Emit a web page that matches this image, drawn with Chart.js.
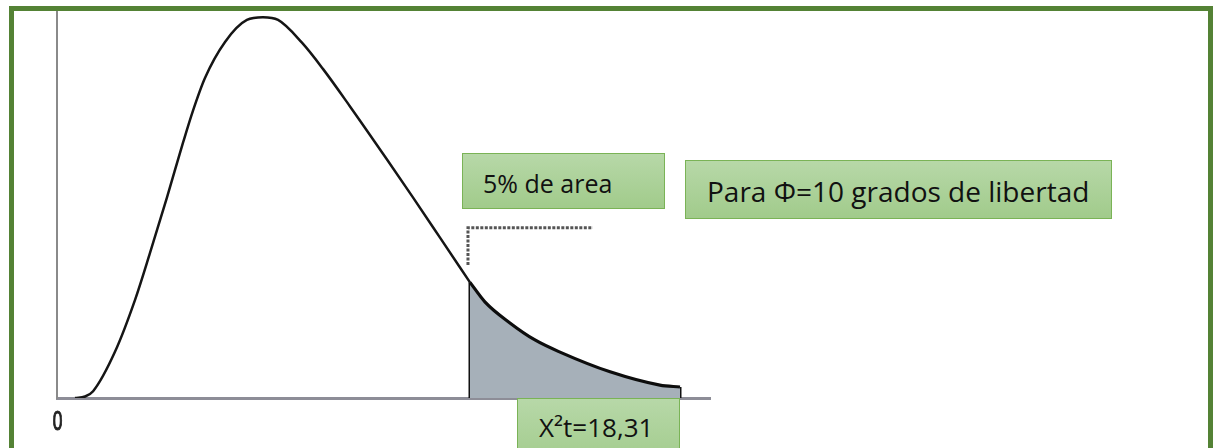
<!DOCTYPE html>
<html>
<head>
<meta charset="utf-8">
<script src="https://cdn.jsdelivr.net/npm/chart.js@4/dist/chart.umd.min.js"></script>
<style>
  html, body { margin: 0; padding: 0; background: #fff; overflow: hidden; }
  #wrap { position: relative; width: 1222px; height: 448px; }
  #chart { position: absolute; left: 0; top: 0; }
  .frame {
    position: absolute; left: 9px; top: 6px; width: 1194px; height: 520px;
    border: 5px solid #548235;
  }
  .box {
    position: absolute; box-sizing: border-box;
    background: linear-gradient(#b7d8a8, #a1cb8b);
    border: 1.5px solid #7ab356;
    font-family: 'Open Sans', 'Noto Sans', sans-serif;
    color: #111; line-height: 1; white-space: nowrap;
  }
</style>
</head>
<body>
<div id="wrap">
  <div class="frame"></div>
  <canvas id="chart" width="1222" height="448"></canvas>
  <div class="box" style="left:462px;top:153px;width:203px;height:56px;font-size:25px;padding:17px 0 0 20px;">5% de area</div>
  <div class="box" style="left:685px;top:160px;width:427px;height:59px;font-size:28px;padding:16px 0 0 21px;">Para Φ=10 grados de libertad</div>
  <div class="box" style="left:517px;top:398px;width:163px;height:70px;font-size:26px;padding:15px 0 0 21px;">X²t=18,31</div>
</div>
<script>
/* ── Data (x = chi-square value, y = density) ── */
const CRITICAL = 18.31;
const X_MAX = 28.95;
const Y_MAX = 0.1018;

// main curve up to the critical value
const curveX = [0.80, 1.24, 1.60, 2.57, 3.46, 4.12, 4.88, 5.59, 6.03, 6.56, 7.45, 8.42, 9.13,
  9.80, 10.86, 11.79, 12.99, 14.63, 15.78, 16.98, 18.31];
const curveY = [0, 0.0004, 0.0018, 0.0122, 0.0259, 0.0382, 0.0530, 0.0674, 0.0758, 0.0844, 0.0939, 0.0997, 0.1004,
  0.0997, 0.0937, 0.0868, 0.0769, 0.0629, 0.0529, 0.0423, 0.0305];

// shaded tail (5% area)
const tailX = [18.31, 18.98, 20.08, 21.19, 22.30, 24.52, 26.73, 27.62];
const tailY = [0.0305, 0.0253, 0.0198, 0.0153, 0.0121, 0.0069, 0.0034, 0.0029];

// dotted pointer from the tail up to the label
const dashX = [18.22, 18.22, 23.76];
const dashY = [0.0351, 0.0449, 0.0449];

const pts = (xs, ys) => xs.map((x, i) => ({ x, y: ys[i] }));

const zeroLabel = {
  id: 'zeroLabel',
  afterDraw(chart) {
    const ctx = chart.ctx;
    const px = chart.scales.x.getPixelForValue(0);
    ctx.save();
    ctx.translate(px + 0.5, 430);
    ctx.scale(0.62, 1);
    ctx.font = "28px 'Liberation Sans', Arial, sans-serif";
    ctx.fillStyle = '#222';
    ctx.strokeStyle = '#222';
    ctx.lineWidth = 1.2;
    ctx.textAlign = 'center';
    ctx.fillText('0', 0, 0);
    ctx.strokeText('0', 0, 0);
    ctx.restore();
  },
};

new Chart(document.getElementById('chart'), {
  type: 'scatter',
  data: {
    datasets: [
      {
        label: 'curva',
        data: pts(curveX, curveY),
        showLine: true,
        borderColor: '#151515',
        borderWidth: 2.5,
        pointRadius: 0,
        cubicInterpolationMode: 'monotone',
      },
      {
        label: 'cola',
        data: pts(tailX, tailY),
        showLine: true,
        borderColor: '#0d0d0d',
        borderWidth: 3.2,
        pointRadius: 0,
        cubicInterpolationMode: 'monotone',
        fill: 'origin',
        backgroundColor: '#a6b0b9',
      },
      {
        label: 'bordes',
        data: [
          { x: CRITICAL, y: tailY[0] }, { x: CRITICAL, y: 0 },
          { x: tailX[tailX.length - 1], y: 0 }, { x: tailX[tailX.length - 1], y: tailY[tailY.length - 1] },
        ],
        showLine: true,
        borderColor: '#111',
        borderWidth: 3,
        pointRadius: 0,
        tension: 0,
      },
      {
        label: 'guia',
        data: pts(dashX, dashY),
        showLine: true,
        borderColor: '#555',
        borderWidth: 3,
        borderDash: [3, 1.5],
        pointRadius: 0,
        tension: 0,
      },
    ],
  },
  options: {
    responsive: false,
    animation: false,
    layout: { padding: { left: 57, top: 12, right: 512, bottom: 50 } },
    plugins: { legend: { display: false }, tooltip: { enabled: false } },
    scales: {
      x: {
        type: 'linear', min: 0, max: X_MAX,
        ticks: { display: false },
        grid: { display: false, drawTicks: false },
        border: { display: true, color: '#8d8d97', width: 3 },
      },
      y: {
        type: 'linear', min: 0, max: Y_MAX,
        ticks: { display: false },
        grid: { display: false, drawTicks: false },
        border: { display: true, color: '#8a8a8a', width: 2 },
      },
    },
  },
  plugins: [zeroLabel],
});
</script>
</body>
</html>
